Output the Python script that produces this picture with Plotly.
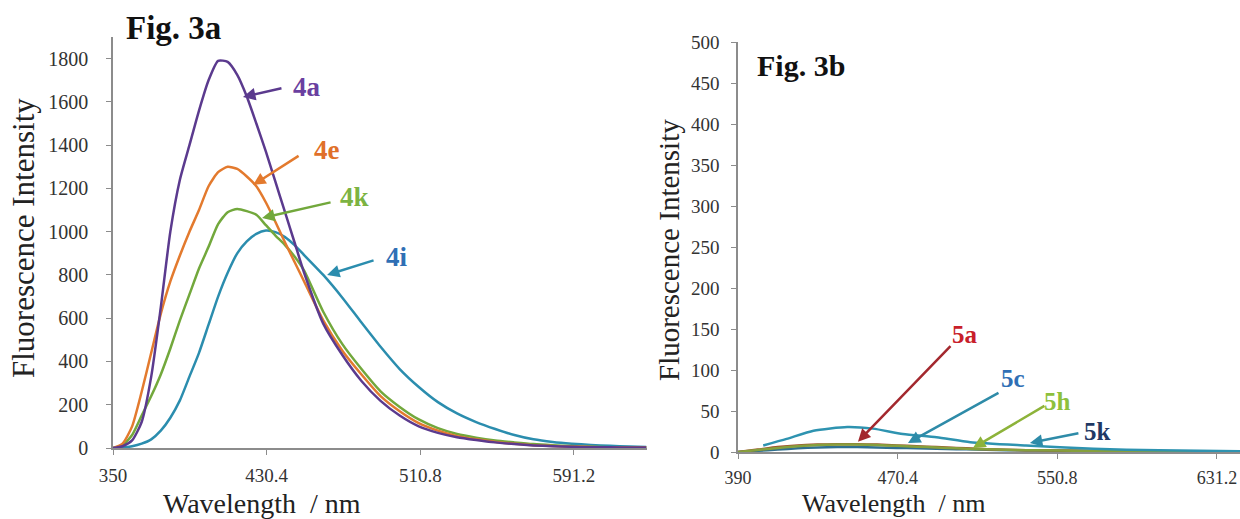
import plotly.graph_objects as go

# ---------------- data: Fig. 3a ----------------
wl_a = [350, 355, 360, 365, 370, 375, 380, 385, 390, 395, 400, 405, 410, 415, 420, 425, 430,
        435, 440, 445, 450, 460, 470, 480, 490, 500, 510, 520, 530, 540, 550, 560, 570, 580,
        590, 600, 610, 620, 629]
int_4a = [0, 8, 35, 120, 330, 650, 1000, 1240, 1400, 1560, 1700, 1790, 1785, 1725, 1625, 1500,
          1370, 1230, 1090, 950, 810, 575, 430, 310, 218, 150, 100, 70, 50, 37, 26, 18, 12, 8,
          6, 4, 3, 2, 2]
int_4e = [0, 20, 100, 260, 440, 620, 770, 890, 1000, 1100, 1210, 1275, 1300, 1290, 1255, 1210,
          1135, 1045, 950, 860, 770, 590, 450, 340, 240, 170, 115, 80, 55, 40, 28, 20, 13, 9,
          6, 5, 3, 2, 2]
int_4k = [0, 12, 60, 150, 240, 340, 460, 590, 710, 830, 930, 1035, 1090, 1105, 1095, 1078, 1030,
          982, 938, 885, 820, 630, 480, 365, 262, 190, 132, 92, 65, 48, 35, 26, 18, 13, 9, 6,
          4, 3, 3]
int_4i = [0, 2, 8, 20, 40, 80, 140, 220, 330, 440, 570, 700, 810, 900, 955, 990, 1005, 998, 975,
          938, 892, 800, 695, 580, 468, 365, 282, 212, 160, 120, 88, 60, 40, 28, 20, 14, 10, 7, 5]
xticks_a = [350, 430.4, 510.8, 591.2]
yticks_a = [0, 200, 400, 600, 800, 1000, 1200, 1400, 1600, 1800]

# ---------------- data: Fig. 3b ----------------
wl_b = [390, 400, 410, 420, 430, 440, 450, 460, 470, 480, 490, 500, 510, 520, 530, 540, 560,
        580, 600, 620, 642.8]
int_5a = [0, 3, 6, 8, 9, 9.5, 9.5, 9, 8, 7, 6, 5, 4, 3, 2.5, 2, 1.5, 1, 0.8, 0.5, 0.3]
int_5h = [0, 2.5, 5, 7, 8.5, 9, 9, 8.5, 7.5, 6.5, 5.5, 4.5, 3.5, 3, 2.5, 2, 1.5, 1, 0.7, 0.5, 0.3]
int_5k = [0, 1.5, 3, 4.5, 5.5, 6, 6, 5.5, 5, 4.5, 4, 3.5, 3, 2.5, 2, 1.8, 1.4, 1.1, 0.9, 0.7, 0.6]
wl_5c = [402.7, 414.5, 428, 445, 458, 473, 490, 507, 535, 569, 602, 642.8]
int_5c = [8, 16, 26, 30.5, 28.5, 22, 18, 12, 8, 4, 2, 1]
xticks_b = [390, 470.4, 550.8, 631.2]
yticks_b = [0, 50, 100, 150, 200, 250, 300, 350, 400, 450, 500]

# ---------------- styles ----------------
C_PUR, C_ORA, C_GRN, C_TEA = "#5B3A8E", "#E37A2E", "#72A83C", "#2B8DAE"
SERIF = "Liberation Serif, Times New Roman, serif"
W, H = 1240, 519

fig = go.Figure()

def add_line(x, y, color, xa, ya, width=2.5):
    fig.add_trace(go.Scatter(x=x, y=y, mode="lines", xaxis=xa, yaxis=ya,
                             line=dict(color=color, width=width, shape="spline", smoothing=0.6),
                             showlegend=False, hoverinfo="skip"))

add_line(wl_a, int_4i, C_TEA, "x", "y")
add_line(wl_a, int_4k, C_GRN, "x", "y")
add_line(wl_a, int_4e, C_ORA, "x", "y")
add_line(wl_a, int_4a, C_PUR, "x", "y")

add_line(wl_b, int_5k, "#2F6F8F", "x2", "y2")
add_line(wl_b, int_5a, "#A0522D", "x2", "y2")
add_line(wl_b, int_5h, "#86A03C", "x2", "y2")
add_line(wl_5c, int_5c, "#2E93B0", "x2", "y2")

def axis_style(size):
    return dict(showline=True, linecolor="#8c8c8c", linewidth=1.5, ticks="outside",
                ticklen=5, tickcolor="#8c8c8c", showgrid=False, zeroline=False,
                automargin=False,
                tickfont=dict(family=SERIF, size=size, color="#333333"))

def px_x(p):
    return p / W

def px_y(p):
    return 1 - p / H

fig.update_layout(
    width=W, height=H, margin=dict(l=0, r=0, t=0, b=0, autoexpand=False),
    paper_bgcolor="white", plot_bgcolor="white",
    xaxis=dict(domain=[px_x(113), px_x(647)], range=[350, 629.4], tickvals=xticks_a,
               ticktext=[str(v) for v in xticks_a], anchor="y", ticklabelstandoff=4,
               **axis_style(19)),
    yaxis=dict(domain=[px_y(448), px_y(37)], range=[0, 1900], tickvals=yticks_a,
               anchor="x", ticklabelstandoff=14, **axis_style(20)),
    xaxis2=dict(domain=[px_x(738), 1.0], range=[390, 642.8], tickvals=xticks_b,
                ticktext=[str(v) for v in xticks_b], anchor="y2", ticklabelstandoff=4,
                **axis_style(18)),
    yaxis2=dict(domain=[px_y(452), px_y(42)], range=[0, 500], tickvals=yticks_b,
                anchor="x2", ticklabelstandoff=8, **axis_style(19)),
)

anns = []
C = dict(xanchor="center", yanchor="middle", showarrow=False)
# titles
anns.append(dict(text="<b>Fig. 3a</b>", x=px_x(173), y=px_y(28), xref="paper", yref="paper",
                 font=dict(family=SERIF, size=33, color="#111"), **C))
anns.append(dict(text="<b>Fig. 3b</b>", x=px_x(801), y=px_y(65), xref="paper", yref="paper",
                 font=dict(family=SERIF, size=30, color="#111"), **C))
for xc, yc, fs in [(24, 238, 31), (669, 250, 29)]:
    anns.append(dict(text="Fluorescence Intensity", x=px_x(xc), y=px_y(yc), xref="paper",
                     yref="paper", textangle=-90,
                     font=dict(family=SERIF, size=fs, color="#222"), **C))
for xc, yc, fs in [(262, 503, 28), (893, 503, 26)]:
    anns.append(dict(text="Wavelength  / nm", x=px_x(xc), y=px_y(yc), xref="paper",
                     yref="paper", font=dict(family=SERIF, size=fs, color="#222"), **C))

# arrows & labels, panel a (head in data coords, tail as pixel offset)
arrows_a = [("4a", 418.0, 1623, 40, -9, 451.5, 1669, C_PUR, "#6A3FA0"),
            ("4e", 423.3, 1216, 47, -30, 462.0, 1378, C_ORA, "#E0702A"),
            ("4k", 428.0, 1063, 70, -16, 476.6, 1160, C_GRN, "#7CB342"),
            ("4i", 462.0, 800, 48, -15, 498.6, 883, C_TEA, "#2F6FB5")]
for lab, hx, hy, ax, ay, tx, ty, acol, tcol in arrows_a:
    anns.append(dict(x=hx, y=hy, xref="x", yref="y", ax=ax, ay=ay, text="", showarrow=True,
                     arrowhead=2, arrowsize=1, arrowwidth=2.5, arrowcolor=acol))
    anns.append(dict(x=tx, y=ty, xref="x", yref="y", text="<b>%s</b>" % lab,
                     font=dict(family=SERIF, size=27, color=tcol), **C))

arrows_b = [("5a", 450.4, 12.6, 94, -97, 504.3, 142.7, "#A3282E", "#C8202A"),
            ("5c", 475.6, 11.0, 92, -51, 528.5, 90.0, "#2E8BA8", "#2F6FB5"),
            ("5h", 508.3, 4.9, 73, -43, 551.0, 61.0, "#8DB33A", "#8DC03C"),
            ("5k", 537.0, 11.0, 50, -10, 570.8, 24.4, "#2E8BA8", "#1F3864")]
for lab, hx, hy, ax, ay, tx, ty, acol, tcol in arrows_b:
    anns.append(dict(x=hx, y=hy, xref="x2", yref="y2", ax=ax, ay=ay, text="", showarrow=True,
                     arrowhead=2, arrowsize=1, arrowwidth=2.5, arrowcolor=acol))
    anns.append(dict(x=tx, y=ty, xref="x2", yref="y2", text="<b>%s</b>" % lab,
                     font=dict(family=SERIF, size=25, color=tcol), **C))

fig.update_layout(annotations=anns)
fig.write_html("out.html", config={"displayModeBar": False},
               post_script="document.body.style.margin='0';")
